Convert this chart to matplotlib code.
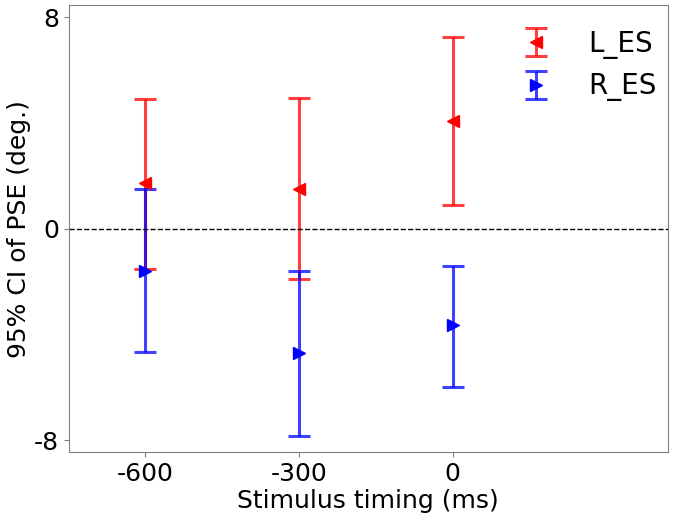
import matplotlib
matplotlib.use("Agg")
import matplotlib.pyplot as plt

plt.rcParams["axes.unicode_minus"] = False

# =========================
# DATA
# =========================

timing = [-600, -300, 0]

l_es_mean = [1.73, 1.51, 4.07]
l_es_low = [-1.51, -1.88, 0.90]
l_es_high = [4.89, 4.93, 7.23]

r_es_mean = [-1.58, -4.71, -3.65]
r_es_low = [-4.67, -7.83, -5.99]
r_es_high = [1.51, -1.58, -1.39]

yticks = [-8, 0, 8]

# =========================
# PLOT
# =========================

def err(mean, low, high):
    return [[m - l for m, l in zip(mean, low)], [h - m for m, h in zip(mean, high)]]

fig, ax = plt.subplots(figsize=(6.85, 5.2), dpi=100)

ax.errorbar(timing, l_es_mean, yerr=err(l_es_mean, l_es_low, l_es_high),
            fmt="<", color="red", ecolor=(1, 0, 0, 0.75), elinewidth=2.2,
            capsize=8, capthick=2.2, markersize=9, label="L_ES")
ax.errorbar(timing, r_es_mean, yerr=err(r_es_mean, r_es_low, r_es_high),
            fmt=">", color="blue", ecolor=(0, 0, 1, 0.75), elinewidth=2.2,
            capsize=8, capthick=2.2, markersize=9, label="R_ES")

ax.axhline(0, color="black", linestyle="--", linewidth=1)

ax.set_xlim(-750, 420)
ax.set_ylim(-8.45, 8.45)
ax.set_xticks(timing)
ax.set_yticks(yticks)
ax.tick_params(labelsize=18, color="gray")
for s in ax.spines.values():
    s.set_color("gray")

ax.set_xlabel("Stimulus timing (ms)", fontsize=18, labelpad=2)
ax.set_ylabel("95% CI of PSE (deg.)", fontsize=18, labelpad=2)

ax.legend(loc="upper right", bbox_to_anchor=(1.014, 0.989), frameon=False,
          fontsize=20, handletextpad=1.4, handlelength=1.0,
          borderaxespad=0.3, labelspacing=0.5)

plt.subplots_adjust(left=0.1, right=0.975, top=0.99, bottom=0.13)
plt.savefig("out.png", dpi=100)
